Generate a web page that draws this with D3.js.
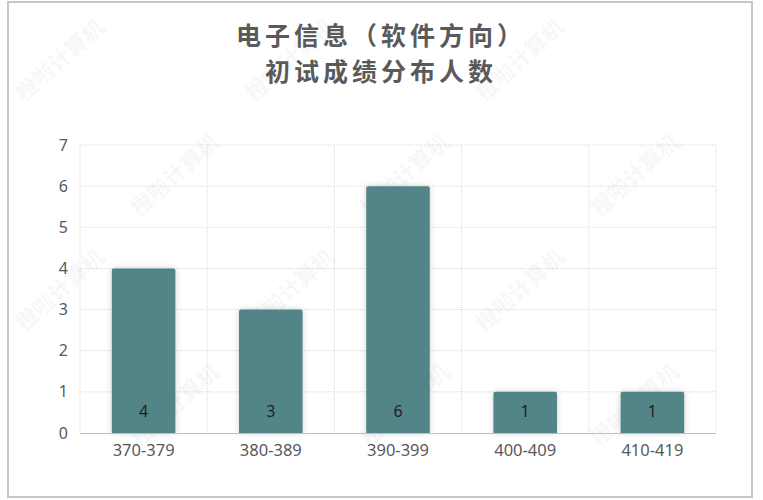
<!DOCTYPE html>
<html><head><meta charset="utf-8">
<script src="https://cdn.jsdelivr.net/npm/d3@7"></script>
<style>body{margin:0;background:#fff}svg{display:block}text{font-family:"Noto Sans CJK SC","Noto Sans",sans-serif}</style>
</head><body>
<svg id="c" width="763" height="500"></svg>
<script>
const categories = ["370-379","380-389","390-399","400-409","410-419"];
const counts = [4,3,6,1,1];
const yTicks = [0,1,2,3,4,5,6,7];
const titleLines = ["电子信息（软件方向）","初试成绩分布人数"];
const watermark = "橙啦计算机";

const svg = d3.select("#c");
const m = {l:80, r:716, t:145, b:433};
const x = d3.scaleBand().domain(categories).range([m.l, m.r]).paddingInner(0.5).paddingOuter(0.25);
const xb = d3.scaleBand().domain(categories).range([m.l, m.r]);
const y = d3.scaleLinear().domain([0,7]).range([m.b, m.t]);

// frame
svg.append("rect").attr("x",8).attr("y",2).attr("width",744).attr("height",495)
  .attr("fill","#fff").attr("stroke","#c6c6c6").attr("stroke-width",2);

const defs = svg.append("defs");
const f = defs.append("filter").attr("id","sh").attr("x","-20%").attr("y","-20%").attr("width","140%").attr("height","140%");
f.append("feDropShadow").attr("dx",0).attr("dy",0).attr("stdDeviation",3).attr("flood-color","#000").attr("flood-opacity",0.18);

// horizontal grid
svg.append("g").selectAll("line").data(yTicks.slice(1)).join("line")
  .attr("x1",m.l).attr("x2",m.r).attr("y1",d=>y(d)).attr("y2",d=>y(d))
  .attr("stroke","#d9d9d9").attr("stroke-width",1).attr("stroke-dasharray","1,1");
// vertical grid (category boundaries)
const vb = categories.map(c=>xb(c)).concat([m.r]);
svg.append("g").selectAll("line").data(vb).join("line")
  .attr("x1",d=>d).attr("x2",d=>d).attr("y1",m.t).attr("y2",m.b)
  .attr("stroke","#d9d9d9").attr("stroke-width",1).attr("stroke-dasharray","1,1");

// watermark (kept inside the frame)
const wm = svg.append("g").attr("pointer-events","none");
const pts = [];
for (let r=0;r<5;r++) for (let k=0;k<6;k++) {
  const px = 60 + k*230 + (r%2)*115, py = 60 + r*115;
  if (px<=705 && py<=450) pts.push([px,py]);
}
wm.selectAll("text").data(pts).join("text")
  .attr("transform",d=>`translate(${d[0]},${d[1]}) rotate(-42)`)
  .attr("text-anchor","middle").attr("dy","0.35em").attr("fill","#000").attr("fill-opacity",0.05)
  .style("font-size","22px").style("font-weight","bold").text(watermark);

// bars
svg.append("g").selectAll("path").data(categories).join("path")
  .attr("d",(c,i)=>{
    const x0=x(c), w=x.bandwidth(), y0=y(counts[i]), y1=y(0), r=2;
    return `M${x0},${y1}V${y0+r}Q${x0},${y0} ${x0+r},${y0}H${x0+w-r}Q${x0+w},${y0} ${x0+w},${y0+r}V${y1}Z`;
  })
  .attr("fill","#538588").attr("filter","url(#sh)");

// x axis line
svg.append("line").attr("x1",m.l).attr("x2",m.r).attr("y1",m.b+0.5).attr("y2",m.b+0.5)
  .attr("stroke","#bfbfbf").attr("stroke-width",1);

// y axis labels
const ya = svg.append("g").attr("transform",`translate(${m.l-12},0)`)
  .call(d3.axisLeft(y).tickValues(yTicks).tickSize(0).tickPadding(0).tickFormat(d3.format("d")));
ya.select(".domain").remove();
ya.selectAll("text").attr("fill","#595959").style("font-size","16px").style("font-family","'Noto Sans','Noto Sans CJK SC',sans-serif");

// x axis labels
const xa = svg.append("g").attr("transform",`translate(0,${m.b})`)
  .call(d3.axisBottom(xb).tickSize(0).tickPadding(11));
xa.select(".domain").remove();
xa.selectAll("text").attr("fill","#595959").style("font-size","16.5px").style("font-family","'Noto Sans','Noto Sans CJK SC',sans-serif");

// data labels
svg.append("g").selectAll("text").data(categories).join("text")
  .attr("x",c=>x(c)+x.bandwidth()/2).attr("y",y(0)-16)
  .attr("text-anchor","middle").attr("fill","#1f1f1f").style("font-size","16px")
  .style("font-family","'Noto Sans',sans-serif")
  .text((c,i)=>counts[i]);

// title
svg.append("g").selectAll("text").data(titleLines).join("text")
  .attr("x",381).attr("y",(d,i)=>45+i*36).attr("text-anchor","middle")
  .attr("fill","#5a5a5a").style("font-size","25px").style("font-weight","bold")
  .style("letter-spacing","4px").text(d=>d);
</script>
</body></html>
